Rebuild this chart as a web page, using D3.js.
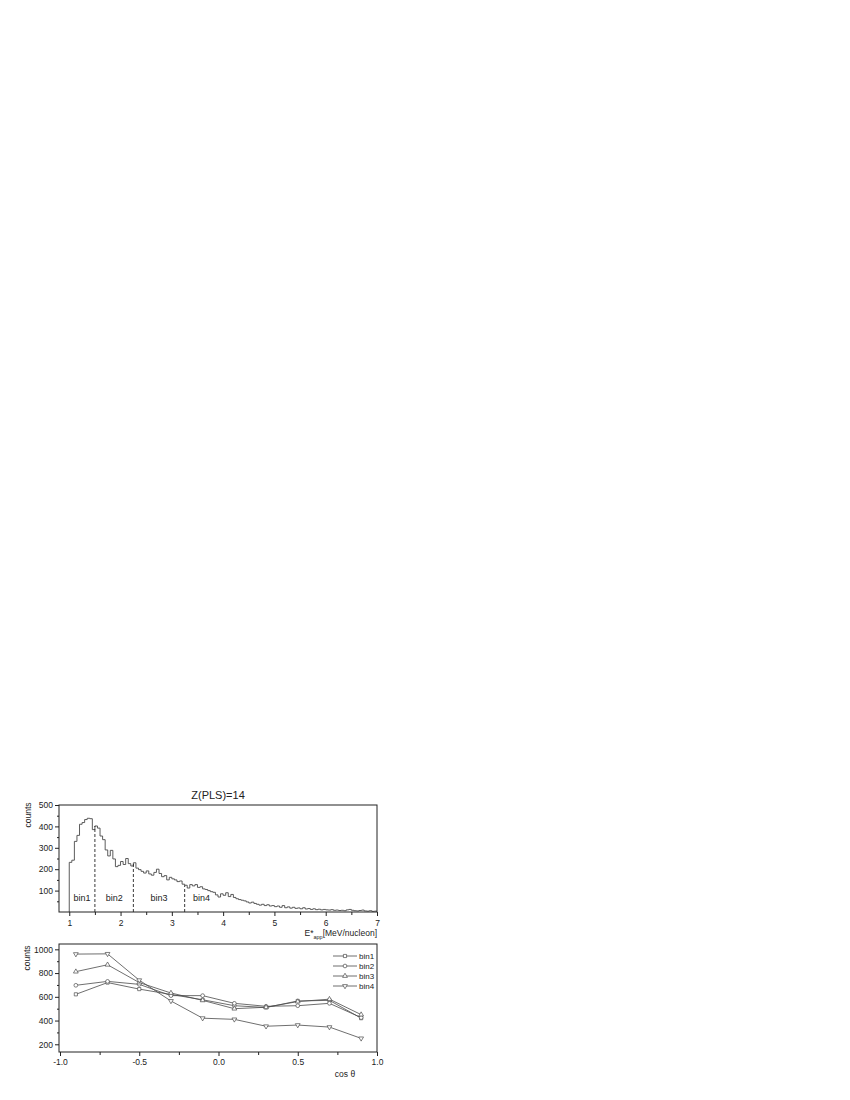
<!DOCTYPE html>
<html>
<head>
<meta charset="utf-8">
<title>Z(PLS)=14</title>
<script src="https://cdn.jsdelivr.net/npm/d3@7"></script>
<style>
    body { margin: 0; background: #fff; }
    svg { display: block; font-family: Arial, "Liberation Sans", sans-serif; }
</style>
</head>
<body>
<script>
// ---- data ----
// top panel: histogram of E*app, bins of 0.05 MeV/nucleon starting at 1.0
const histStart = 1.0;
const histWidth = 0.05;
const histCounts = [
    232, 242, 330, 358, 410, 418, 432, 438, 436, 385,
    402, 392, 355, 338, 290, 262, 288, 248, 212, 218,
    236, 222, 250, 226, 215, 230, 205, 198, 190, 182,
    192, 178, 172, 185, 200, 180, 165, 170, 150, 162,
    155, 150, 142, 145, 130, 125, 112, 128, 122, 128,
    115, 118, 108, 105, 100, 95, 92, 80, 70, 85,
    78, 90, 72, 82, 68, 62, 58, 55, 52, 47,
    42, 46, 40, 36, 32, 36, 30, 34, 28, 30,
    25, 28, 22, 30, 20, 24, 18, 22, 17, 19,
    15, 20, 14, 16, 12, 15, 11, 13, 10, 12,
    10, 9, 11, 8, 9, 7, 8, 6, 10, 12,
    8, 6, 5, 7, 9, 5, 4, 6, 3, 4
];
const binEdges = [1.5, 2.25, 3.25];
const binNames = ["bin1", "bin2", "bin3", "bin4"];
const binLabelX = [1.25, 1.875, 2.75, 3.58];
const topXTicks = [1, 2, 3, 4, 5, 6, 7];
const topXMinor = [1.5, 2.5, 3.5, 4.5, 5.5, 6.5];
const topYTicks = [100, 200, 300, 400, 500];
const topYMinor = [50, 150, 250, 350, 450];

// bottom panel: angular distributions per bin
const cosTheta = [-0.9, -0.7, -0.5, -0.3, -0.1, 0.1, 0.3, 0.5, 0.7, 0.9];
const bin1 = [621, 720, 665, 620, 575, 525, 510, 565, 570, 420];
const bin2 = [697, 730, 705, 610, 610, 545, 520, 525, 545, 425];
const bin3 = [812, 870, 720, 632, 570, 500, 512, 560, 580, 450];
const bin4 = [960, 962, 740, 565, 420, 410, 352, 362, 345, 250];
const botXTicks = [-1.0, -0.5, 0.0, 0.5, 1.0];
const botXMinor = [-0.75, -0.25, 0.25, 0.75];
const botYTicks = [200, 400, 600, 800, 1000];
const botYMinor = [300, 500, 700, 900];

// ---- drawing ----
const ink = "#222";
const lineCol = "#4a4a4a";
const tickFont = "8.5px";

const svg = d3.select("body").append("svg")
    .attr("width", 850)
    .attr("height", 1100);

function minorAxis(g, axis) {
    g.call(axis);
    g.select(".domain").remove();
    g.selectAll(".tick line").attr("stroke", ink);
}

// ===== top panel =====
const topBox = {left: 59, right: 377, top: 805, bottom: 912};
const xTop = d3.scaleLinear().domain([0.8, 7]).range([topBox.left, topBox.right]);
const yTop = d3.scaleLinear().domain([0, 500]).range([topBox.bottom, topBox.top]);

svg.append("text")
    .text("Z(PLS)=14")
    .attr("x", 218)
    .attr("y", 799)
    .attr("text-anchor", "middle")
    .style("font-size", "11px")
    .attr("fill", ink);

// histogram outline
const histPts = [[histStart, 0]];
histCounts.forEach((c, i) => {
    histPts.push([histStart + i * histWidth, c]);
    histPts.push([histStart + (i + 1) * histWidth, c]);
});
svg.append("path")
    .attr("d", d3.line().x(d => xTop(d[0])).y(d => yTop(d[1]))(histPts))
    .attr("fill", "none")
    .attr("stroke", lineCol)
    .attr("stroke-width", 0.9);

// dashed bin edges
svg.selectAll(".edge")
    .data(binEdges)
    .enter()
    .append("line")
    .attr("class", "edge")
    .attr("x1", d => xTop(d))
    .attr("x2", d => xTop(d))
    .attr("y1", yTop(0))
    .attr("y2", d => yTop(histCounts[Math.round((d - histStart) / histWidth)]))
    .attr("stroke", ink)
    .attr("stroke-width", 0.9)
    .attr("stroke-dasharray", "3,2");

svg.selectAll(".binlab")
    .data(binNames)
    .enter()
    .append("text")
    .attr("class", "binlab")
    .text(d => d)
    .attr("x", (d, i) => xTop(binLabelX[i]))
    .attr("y", 901)
    .attr("text-anchor", "middle")
    .style("font-size", "9px")
    .attr("fill", ink);

svg.append("rect")
    .attr("x", topBox.left)
    .attr("y", topBox.top)
    .attr("width", topBox.right - topBox.left)
    .attr("height", topBox.bottom - topBox.top)
    .attr("fill", "none")
    .attr("stroke", ink)
    .attr("stroke-width", 1);

const topXAxis = svg.append("g")
    .attr("transform", "translate(0," + topBox.bottom + ")");
minorAxis(topXAxis, d3.axisBottom(xTop).tickValues(topXTicks).tickSize(4).tickPadding(4).tickFormat(d3.format("d")));
svg.append("g")
    .attr("transform", "translate(0," + topBox.bottom + ")")
    .call(g => minorAxis(g, d3.axisBottom(xTop).tickValues(topXMinor).tickSize(3).tickFormat("")));

const topYAxis = svg.append("g")
    .attr("transform", "translate(" + topBox.left + ",0)");
minorAxis(topYAxis, d3.axisLeft(yTop).tickValues(topYTicks).tickSize(4).tickPadding(2).tickFormat(d3.format("d")));
svg.append("g")
    .attr("transform", "translate(" + topBox.left + ",0)")
    .call(g => minorAxis(g, d3.axisLeft(yTop).tickValues(topYMinor).tickSize(2).tickFormat("")));

svg.append("text")
    .text("counts")
    .attr("transform", "translate(31,815) rotate(-90)")
    .attr("text-anchor", "middle")
    .style("font-size", "8.5px")
    .attr("fill", ink);

const eLabel = svg.append("text")
    .attr("x", topBox.right)
    .attr("y", 936)
    .attr("text-anchor", "end")
    .style("font-size", "8.5px")
    .attr("fill", ink);
eLabel.append("tspan").text("E*");
eLabel.append("tspan").text("app").attr("dy", 2.5).style("font-size", "5.5px");
eLabel.append("tspan").text("[MeV/nucleon]").attr("dy", -2.5);

// ===== bottom panel =====
const botBox = {left: 59, right: 377, top: 944, bottom: 1052};
const xBot = d3.scaleLinear().domain([-1, 1]).range([60, botBox.right]);
const yBot = d3.scaleLinear().domain([135, 1045]).range([botBox.bottom, botBox.top]);

svg.append("rect")
    .attr("x", botBox.left)
    .attr("y", botBox.top)
    .attr("width", botBox.right - botBox.left)
    .attr("height", botBox.bottom - botBox.top)
    .attr("fill", "none")
    .attr("stroke", ink)
    .attr("stroke-width", 1);

const botXAxis = svg.append("g")
    .attr("transform", "translate(0," + botBox.bottom + ")");
minorAxis(botXAxis, d3.axisBottom(xBot).tickValues(botXTicks).tickSize(4).tickPadding(3).tickFormat(d => d.toFixed(1)));
svg.append("g")
    .attr("transform", "translate(0," + botBox.bottom + ")")
    .call(g => minorAxis(g, d3.axisBottom(xBot).tickValues(botXMinor).tickSize(3).tickFormat("")));

const botYAxis = svg.append("g")
    .attr("transform", "translate(" + botBox.left + ",0)");
minorAxis(botYAxis, d3.axisLeft(yBot).tickValues(botYTicks).tickSize(4).tickPadding(2).tickFormat(d3.format("d")));
svg.append("g")
    .attr("transform", "translate(" + botBox.left + ",0)")
    .call(g => minorAxis(g, d3.axisLeft(yBot).tickValues(botYMinor).tickSize(2).tickFormat("")));

svg.selectAll("g.tick text")
    .style("font-size", tickFont)
    .attr("fill", ink)
    .style("font-family", "Arial, 'Liberation Sans', sans-serif");

svg.append("text")
    .text("counts")
    .attr("transform", "translate(30,958) rotate(-90)")
    .attr("text-anchor", "middle")
    .style("font-size", "8.5px")
    .attr("fill", ink);

svg.append("text")
    .attr("x", 345)
    .attr("y", 1077)
    .attr("text-anchor", "middle")
    .style("font-size", "8.5px")
    .attr("fill", ink)
    .text("cos \u03b8");

const series = [
    {name: "bin1", values: bin1, symbol: d3.symbolSquare, rot: 0, size: 10},
    {name: "bin2", values: bin2, symbol: d3.symbolCircle, rot: 0, size: 11},
    {name: "bin3", values: bin3, symbol: d3.symbolTriangle, rot: 0, size: 10},
    {name: "bin4", values: bin4, symbol: d3.symbolTriangle, rot: 180, size: 10}
];

const lineGen = d3.line()
    .x((d, i) => xBot(cosTheta[i]))
    .y(d => yBot(d));

series.forEach(s => {
    svg.append("path")
        .attr("d", lineGen(s.values))
        .attr("fill", "none")
        .attr("stroke", lineCol)
        .attr("stroke-width", 0.8);
    svg.selectAll(".pt-" + s.name)
        .data(s.values)
        .enter()
        .append("path")
        .attr("class", "pt-" + s.name)
        .attr("d", d3.symbol().type(s.symbol).size(s.size))
        .attr("transform", (d, i) => "translate(" + xBot(cosTheta[i]) + "," + yBot(d) + ") rotate(" + s.rot + ")")
        .attr("fill", "#fff")
        .attr("stroke", lineCol)
        .attr("stroke-width", 0.7);
});

// legend
const legend = svg.append("g").attr("id", "legend");
const legendY = [956, 966, 976, 986];
series.forEach((s, i) => {
    const row = legend.append("g").attr("transform", "translate(0," + legendY[i] + ")");
    row.append("line")
        .attr("x1", 333).attr("x2", 357)
        .attr("y1", 0).attr("y2", 0)
        .attr("stroke", lineCol)
        .attr("stroke-width", 0.8);
    row.append("path")
        .attr("d", d3.symbol().type(s.symbol).size(s.size))
        .attr("transform", "translate(345,0) rotate(" + s.rot + ")")
        .attr("fill", "#fff")
        .attr("stroke", lineCol)
        .attr("stroke-width", 0.7);
    row.append("text")
        .text(s.name)
        .attr("x", 359)
        .attr("y", 0)
        .attr("dy", "0.35em")
        .style("font-size", "8px")
        .attr("fill", ink);
});
</script>
</body>
</html>
